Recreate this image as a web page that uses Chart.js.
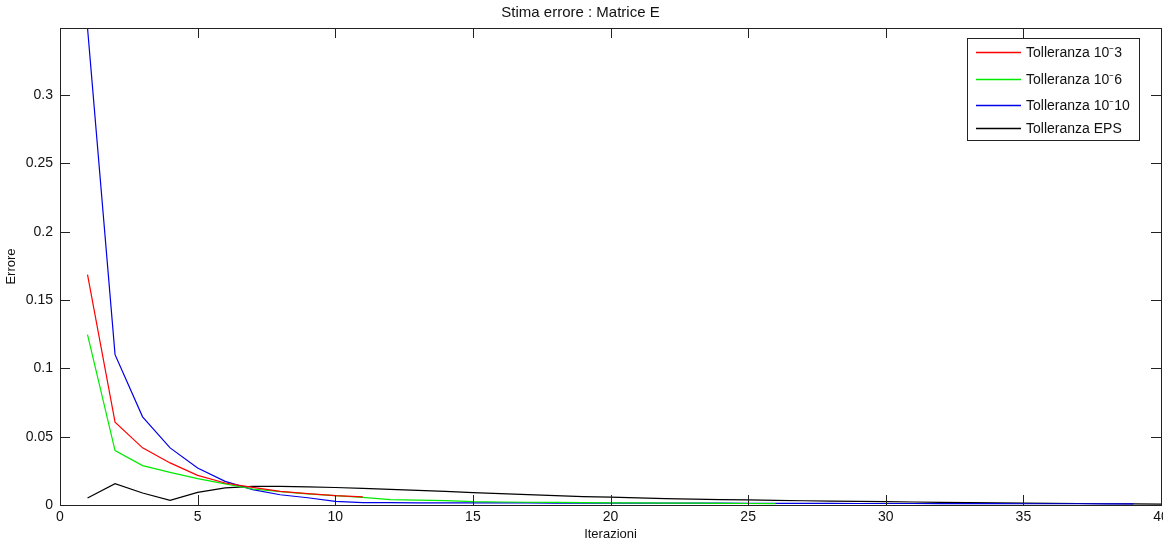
<!DOCTYPE html>
<html>
<head>
<meta charset="utf-8">
<title>Stima errore : Matrice E</title>
<script src="https://cdn.jsdelivr.net/npm/chart.js@4/dist/chart.umd.min.js"></script>
<style>
    html, body { margin: 0; padding: 0; background: #fff; }
    #wrap { width: 1163px; height: 542px; }
</style>
</head>
<body>
<div id="wrap"><canvas id="erroreChart" width="1163" height="542"></canvas></div>
<script>
    // valori (errore per iterazione, a partire da 1)
    const tol3 = [0.1686, 0.0606, 0.0418, 0.0308, 0.0217, 0.0161, 0.0129, 0.0100, 0.0083, 0.0068, 0.0059];
    const tol6 = [0.1246, 0.0398, 0.0288, 0.0239, 0.0193, 0.0154, 0.0117, 0.0098, 0.0082, 0.0068,
                  0.0056, 0.0040, 0.0036, 0.0032, 0.0024, 0.0022, 0.0020, 0.0019, 0.0017, 0.0016,
                  0.0015, 0.0014, 0.0013, 0.0012, 0.0011, 0.0010];
    const tol10 = [0.3490, 0.1100, 0.0645, 0.0418, 0.0271, 0.0173, 0.0112, 0.0075, 0.0053, 0.0026,
                   0.0018, 0.0017, 0.0016, 0.0016, 0.0015, 0.0015, 0.0015, 0.0014, 0.0014, 0.0014,
                   0.0013, 0.0013, 0.0013, 0.0013, 0.0012, 0.0012, 0.0012, 0.0012, 0.0011, 0.0011,
                   0.0011, 0.0010, 0.0010, 0.0010, 0.0009, 0.0009, 0.0009, 0.0008, 0.0008];
    const tolEps = [0.0051, 0.0156, 0.0088, 0.0034, 0.0092, 0.0125, 0.0136, 0.0136, 0.0133, 0.0128,
                    0.0122, 0.0115, 0.0107, 0.0099, 0.0090, 0.0083, 0.0076, 0.0069, 0.0062, 0.0057,
                    0.0052, 0.0047, 0.0043, 0.0040, 0.0037, 0.0034, 0.0031, 0.0029, 0.0027, 0.0025,
                    0.0022, 0.0019, 0.0017, 0.0016, 0.0014, 0.0012, 0.0011, 0.0009, 0.0008, 0.0006];

    const seriesLabels = ['Tolleranza 10\u207B3', 'Tolleranza 10\u207B6', 'Tolleranza 10\u207B10', 'Tolleranza EPS'];
    const seriesColors = ['rgb(255,0,0)', 'rgb(0,235,0)', 'rgb(0,0,230)', 'rgb(0,0,0)'];
    const xTicks = [0, 5, 10, 15, 20, 25, 30, 35, 40];
    const yTicks = [0, 0.05, 0.1, 0.15, 0.2, 0.25, 0.3];

    const FONT = '"Liberation Sans", Arial, sans-serif';

    function toPoints(values) {
        return values.map((v, i) => ({x: i + 1, y: v}));
    }

    // riquadro stile MATLAB con tacche verso l'interno + legenda
    const boxPlugin = {
        id: 'matlabBox',
        afterDraw: function(chart) {
            const ctx = chart.ctx;
            const a = chart.chartArea;
            const xs = chart.scales.x, ys = chart.scales.y;
            const tl = 10;
            ctx.save();
            ctx.strokeStyle = '#222';
            ctx.lineWidth = 1;
            ctx.beginPath();
            xTicks.forEach(function(t) {
                const px = Math.round(xs.getPixelForValue(t)) + 0.5;
                ctx.moveTo(px, a.bottom); ctx.lineTo(px, a.bottom - tl);
                ctx.moveTo(px, a.top); ctx.lineTo(px, a.top + tl);
            });
            yTicks.forEach(function(t) {
                const py = Math.round(ys.getPixelForValue(t)) + 0.5;
                ctx.moveTo(a.left, py); ctx.lineTo(a.left + tl, py);
                ctx.moveTo(a.right, py); ctx.lineTo(a.right - tl, py);
            });
            ctx.stroke();
            ctx.strokeRect(Math.round(a.left) + 0.5, Math.round(a.top) + 0.5,
                Math.round(a.right - a.left), Math.round(a.bottom - a.top));

            const lx = 967, ly = 38, lw = 172, lh = 102;
            const rows = [52, 79, 105, 128];
            ctx.fillStyle = '#fff';
            ctx.fillRect(lx, ly, lw, lh);
            ctx.strokeStyle = '#222';
            ctx.strokeRect(lx + 0.5, ly + 0.5, lw, lh);
            ctx.font = '14px ' + FONT;
            ctx.textBaseline = 'middle';
            seriesLabels.forEach(function(label, i) {
                ctx.beginPath();
                ctx.lineWidth = 1.5;
                ctx.strokeStyle = seriesColors[i];
                ctx.moveTo(976, rows[i] + 0.5);
                ctx.lineTo(1021, rows[i] + 0.5);
                ctx.stroke();
                ctx.fillStyle = '#111';
                ctx.fillText(label, 1026, rows[i] + 1);
            });
            ctx.restore();
        }
    };

    const datasets = [tol3, tol6, tol10, tolEps].map(function(vals, i) {
        return {
            label: seriesLabels[i],
            data: toPoints(vals),
            borderColor: seriesColors[i],
            backgroundColor: seriesColors[i],
            borderWidth: 1.2,
            pointRadius: 0,
            tension: 0,
            fill: false
        };
    });

    new Chart(document.getElementById('erroreChart').getContext('2d'), {
        type: 'line',
        data: {datasets: datasets},
        plugins: [boxPlugin],
        options: {
            responsive: false,
            animation: false,
            layout: {padding: {left: 0, right: 2, top: 0, bottom: 0}},
            plugins: {
                legend: {display: false},
                tooltip: {enabled: false},
                title: {
                    display: true,
                    text: 'Stima errore : Matrice E',
                    color: '#111',
                    font: {family: FONT, size: 15, weight: 'normal', lineHeight: 1.2},
                    padding: {top: 4, bottom: 6}
                }
            },
            scales: {
                x: {
                    type: 'linear',
                    min: 0,
                    max: 40,
                    afterBuildTicks: function(s) { s.ticks = xTicks.map(v => ({value: v})); },
                    afterFit: function(s) {
                        s.height = 37;
                        s.paddingLeft = 0;
                        s.paddingRight = 0;
                    },
                    grid: {display: false, drawTicks: false},
                    border: {display: false},
                    ticks: {
                        color: '#111',
                        padding: 4,
                        maxRotation: 0,
                        autoSkip: false,
                        font: {family: FONT, size: 14}
                    },
                    title: {
                        display: true,
                        text: 'Iterazioni',
                        color: '#111',
                        font: {family: FONT, size: 13},
                        padding: {top: 0, bottom: 0}
                    }
                },
                y: {
                    min: 0,
                    max: 0.349,
                    afterBuildTicks: function(s) { s.ticks = yTicks.map(v => ({value: v})); },
                    afterFit: function(s) { s.width = 60; },
                    grid: {display: false, drawTicks: false},
                    border: {display: false},
                    ticks: {
                        color: '#111',
                        padding: 7,
                        autoSkip: false,
                        font: {family: FONT, size: 14},
                        callback: function(v) { return String(Math.round(v * 100) / 100); }
                    },
                    title: {
                        display: true,
                        text: 'Errore',
                        color: '#111',
                        font: {family: FONT, size: 13},
                        padding: {top: 4, bottom: 0}
                    }
                }
            }
        }
    });
</script>
</body>
</html>
